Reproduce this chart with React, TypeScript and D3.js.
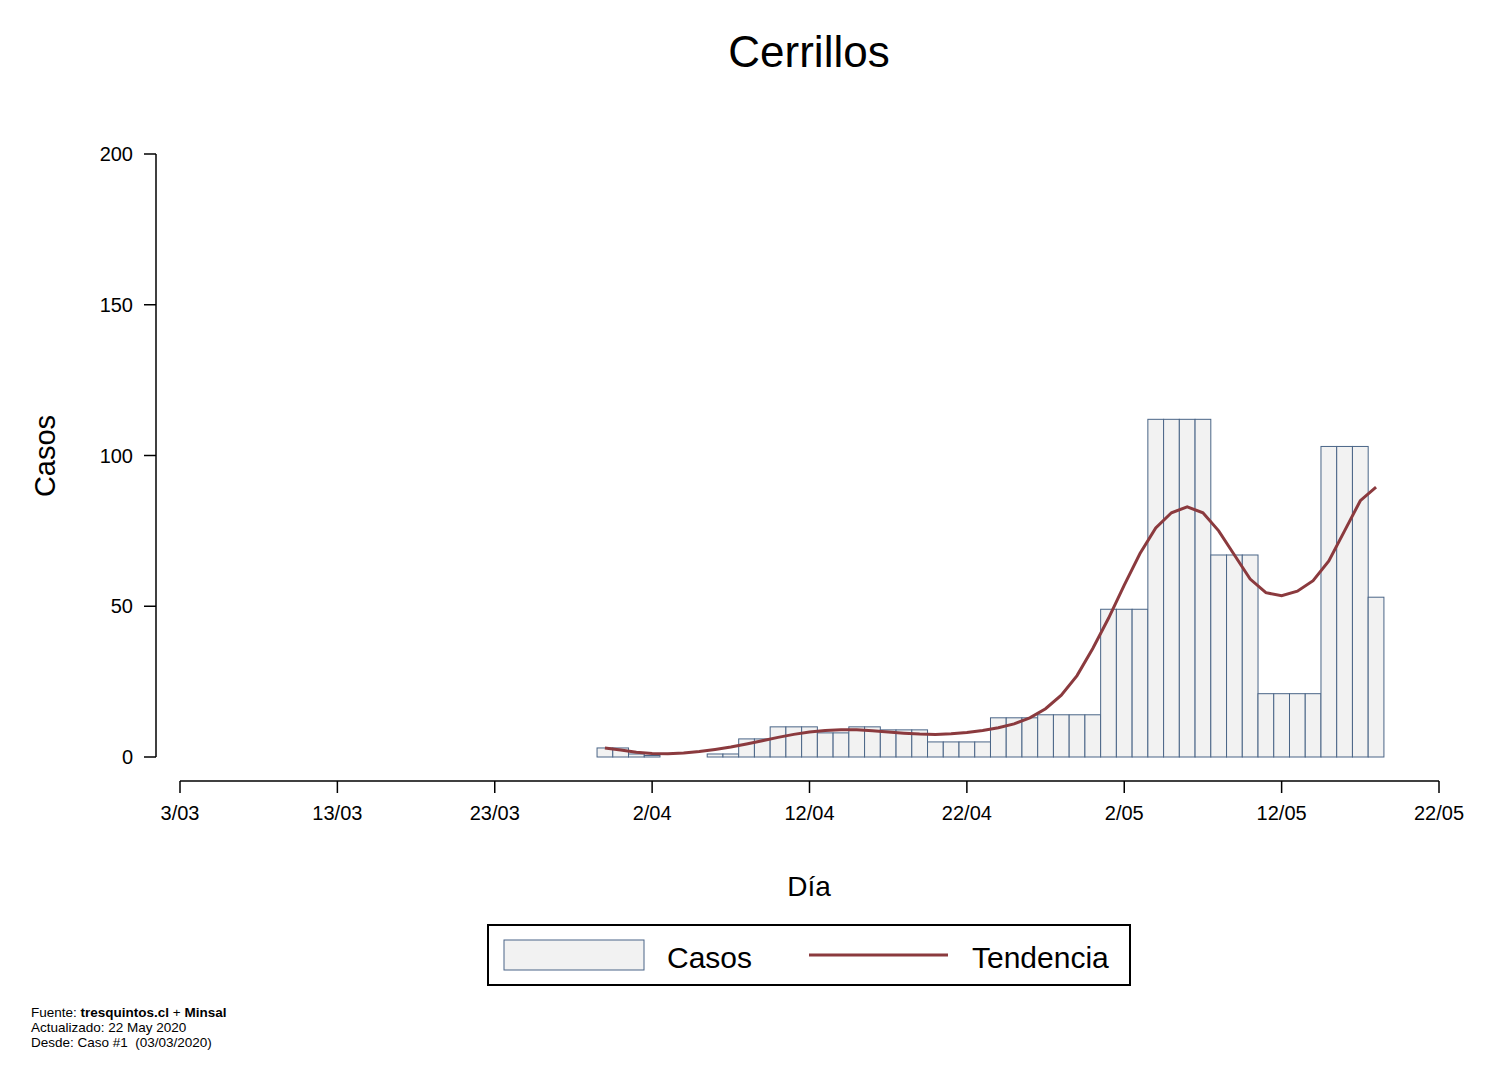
import React from "react";
import * as d3 from "d3";

const caseDays = [27,28,29,30,31,32,33,34,35,36,37,38,39,40,41,42,43,44,45,46,47,48,49,50,51,52,53,54,55,56,57,58,59,60,61,62,63,64,65,66,67,68,69,70,71,72,73,74,75,76];
const caseValues = [3,3,1,0.5,0,0,0,1,1,6,6,10,10,10,8,8,10,10,9,9,9,5,5,5,5,13,13,13,14,14,14,14,49,49,49,112,112,112,112,67,67,67,21,21,21,21,103,103,103,53];
const trendValues = [3,2.3,1.6,1.2,1.1,1.3,1.8,2.5,3.3,4.3,5.4,6.5,7.5,8.3,8.8,9,9,8.7,8.3,7.9,7.6,7.5,7.7,8.1,8.8,9.7,11,13,16,20.5,27,36,46,57,67.5,76,81,83,81,75,67,59,54.5,53.5,55,58.5,65,75,85,89.5];
const xTickDays = [0,10,20,30,40,50,60,70,80];
const xTickLabels = ["3/03","13/03","23/03","2/04","12/04","22/04","2/05","12/05","22/05"];
const yTicks = [0,50,100,150,200];

export default function App() {
  const x = d3.scaleLinear().domain([0, 80]).range([180, 1439]);
  const y = d3.scaleLinear().domain([0, 200]).range([757, 154]);
  const line = d3.line<number>().x((_, i) => x(caseDays[i])).y(v => y(v)).curve(d3.curveLinear);
  const font = "'Liberation Sans', Arial, Helvetica, sans-serif";
  return (
    <svg width={1488} height={1082} style={{ position: "absolute", left: 0, top: 0, background: "#fff" }} fontFamily={font}>
      <rect width={1488} height={1082} fill="#fff" />
      <text x={809} y={67} fontSize={44} textAnchor="middle">Cerrillos</text>
      {caseDays.map((d, i) => caseValues[i] > 0 && (
        <rect key={d} x={x(d - 0.5)} y={y(caseValues[i])} width={x(d + 0.5) - x(d - 0.5)} height={y(0) - y(caseValues[i])}
          fill="#f2f2f2" stroke="#4a6587" strokeWidth={1} />
      ))}
      <path d={line(trendValues) || ""} fill="none" stroke="#8b3a3e" strokeWidth={3} />
      <line x1={156} x2={156} y1={y(0)} y2={y(200)} stroke="#000" strokeWidth={1.5} />
      {yTicks.map(t => (
        <g key={t}>
          <line x1={144} x2={156} y1={y(t)} y2={y(t)} stroke="#000" strokeWidth={1.5} />
          <text x={133} y={y(t) + 7} fontSize={20} textAnchor="end">{t}</text>
        </g>
      ))}
      <line x1={x(0)} x2={x(80)} y1={781} y2={781} stroke="#000" strokeWidth={1.5} />
      {xTickDays.map((t, i) => (
        <g key={t}>
          <line x1={x(t)} x2={x(t)} y1={781} y2={793} stroke="#000" strokeWidth={1.5} />
          <text x={x(t)} y={820} fontSize={20} textAnchor="middle">{xTickLabels[i]}</text>
        </g>
      ))}
      <text x={809} y={896} fontSize={28} textAnchor="middle">Día</text>
      <text transform="translate(55,456) rotate(-90)" fontSize={29} textAnchor="middle">Casos</text>
      <rect x={488} y={925} width={642} height={60} fill="#fff" stroke="#000" strokeWidth={2} />
      <rect x={504} y={940} width={140} height={30} fill="#f2f2f2" stroke="#4a6587" strokeWidth={1} />
      <text x={667} y={968} fontSize={30}>Casos</text>
      <line x1={809} x2={948} y1={955} y2={955} stroke="#8b3a3e" strokeWidth={3} />
      <text x={972} y={968} fontSize={30}>Tendencia</text>
      <text x={31} y={1017} fontSize={13.5}>Fuente: <tspan fontWeight="bold">tresquintos.cl</tspan> + <tspan fontWeight="bold">Minsal</tspan></text>
      <text x={31} y={1032} fontSize={13.5}>Actualizado: 22 May 2020</text>
      <text x={31} y={1047} fontSize={13.5} style={{ whiteSpace: "pre" }}>{"Desde: Caso #1  (03/03/2020)"}</text>
    </svg>
  );
}
